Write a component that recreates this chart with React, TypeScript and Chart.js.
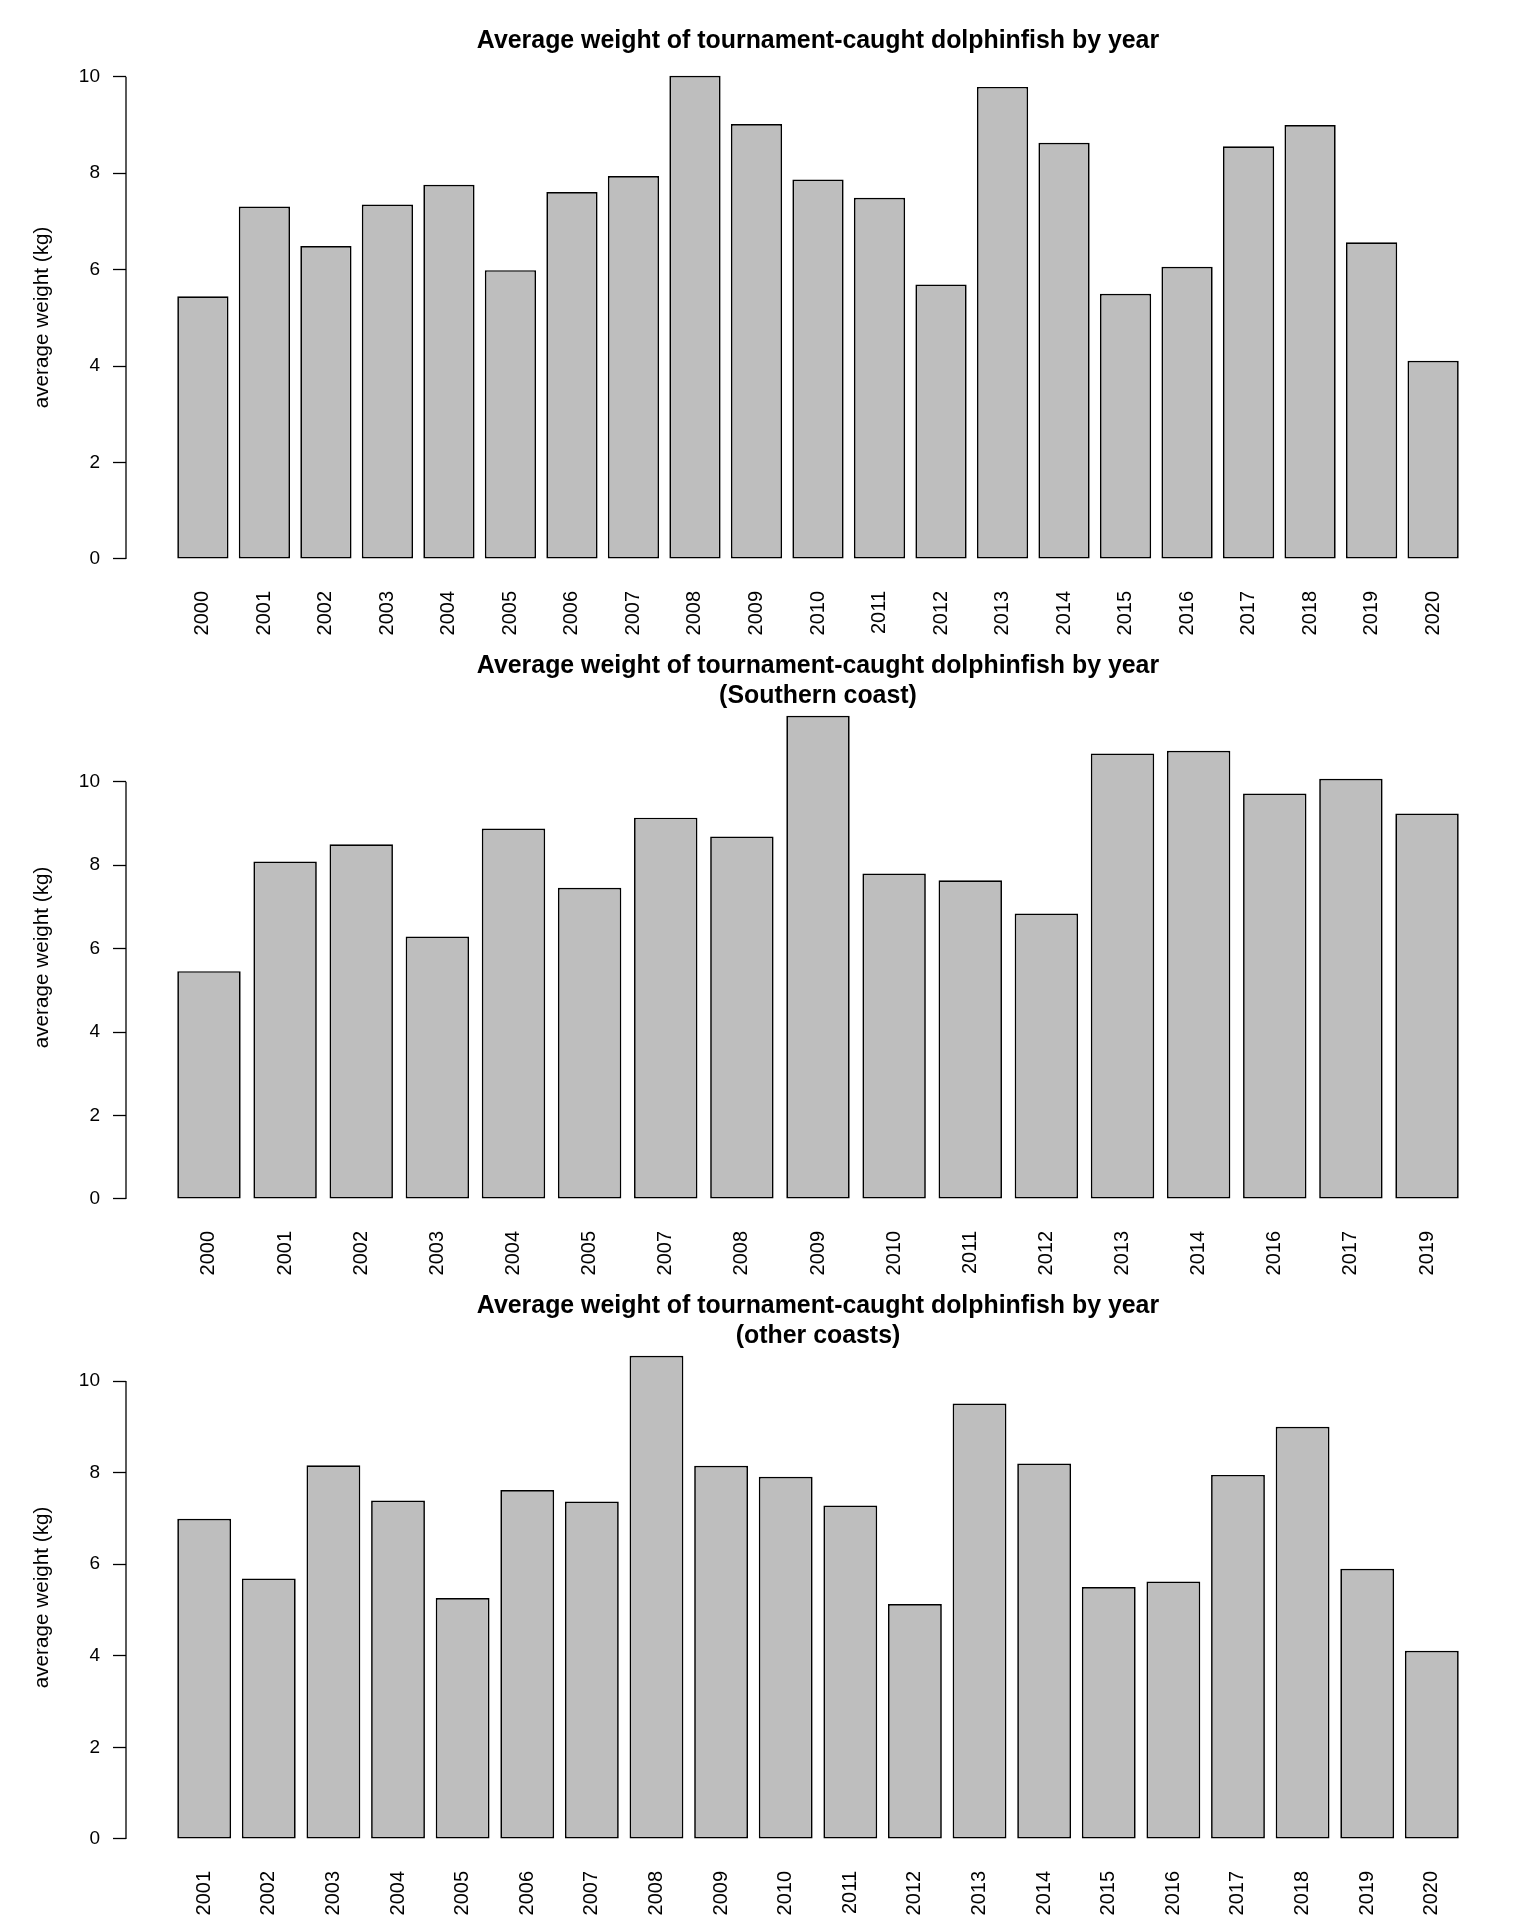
import React, { useEffect, useRef } from "react";
import { Chart, registerables } from "chart.js";

Chart.register(...registerables);

const FONT = '"Liberation Sans", Arial, Helvetica, sans-serif';

const titleMain = "Average weight of tournament-caught dolphinfish by year";
const yAxisTitle = "average weight (kg)";

const yearsAll = ["2000", "2001", "2002", "2003", "2004", "2005", "2006", "2007", "2008", "2009", "2010", "2011", "2012", "2013", "2014", "2015", "2016", "2017", "2018", "2019", "2020"];
const weightsAll = [5.45, 7.31, 6.49, 7.35, 7.76, 5.99, 7.61, 7.94, 10.02, 9.02, 7.87, 7.49, 5.69, 9.79, 8.63, 5.5, 6.06, 8.56, 9.0, 6.57, 4.11];

const yearsSouth = ["2000", "2001", "2002", "2003", "2004", "2005", "2007", "2008", "2009", "2010", "2011", "2012", "2013", "2014", "2016", "2017", "2019"];
const weightsSouth = [5.46, 8.09, 8.5, 6.29, 8.88, 7.46, 9.14, 8.69, 11.58, 7.8, 7.64, 6.84, 10.68, 10.74, 9.72, 10.07, 9.24];

const yearsOther = ["2001", "2002", "2003", "2004", "2005", "2006", "2007", "2008", "2009", "2010", "2011", "2012", "2013", "2014", "2015", "2016", "2017", "2018", "2019", "2020"];
const weightsOther = [6.99, 5.69, 8.16, 7.39, 5.26, 7.62, 7.37, 10.55, 8.15, 7.91, 7.28, 5.13, 9.51, 8.2, 5.5, 5.62, 7.95, 9.0, 5.9, 4.11];

const yTicks = [0, 2, 4, 6, 8, 10];

const titlesAll = [titleMain];
const titlesSouth = [titleMain, "(Southern coast)"];
const titlesOther = [titleMain, "(other coasts)"];

const decorPlugin = {
  id: "rDecor",
  afterDraw(chart: any, _args: any, opts: any) {
    const { ctx, chartArea, scales } = chart;
    const y = scales.y;
    const t = y.ticks;
    const top = y.getPixelForValue(t[t.length - 1].value);
    const bot = y.getPixelForValue(t[0].value);
    ctx.save();
    ctx.strokeStyle = "#000";
    ctx.lineWidth = 1.3;
    ctx.beginPath();
    ctx.moveTo(chartArea.left, top);
    ctx.lineTo(chartArea.left, bot);
    ctx.stroke();
    ctx.fillStyle = "#000";
    ctx.font = `bold 24.9px ${FONT}`;
    ctx.textAlign = "center";
    ctx.textBaseline = "middle";
    const cx = (chartArea.left + chartArea.right) / 2;
    const lines: string[] = opts.lines || [];
    const lh = 30.3;
    const cy = 41;
    lines.forEach((l, i) => {
      ctx.fillText(l, cx, cy + (i - (lines.length - 1) / 2) * lh);
    });
    ctx.restore();
  },
};

function Panel({ labels, values, lines }: { labels: string[]; values: number[]; lines: string[] }) {
  const ref = useRef<HTMLCanvasElement | null>(null);
  useEffect(() => {
    if (!ref.current) return;
    const n = labels.length;
    const r = 1.2 * n - 0.2;
    const lower = 0.2 - 0.04 * r;
    const upper = 1.2 * n + 0.04 * r;
    const xMin = (lower - 0.7) / 1.2;
    const xMax = (upper - 0.7) / 1.2;
    const vMax = Math.max(...values);
    const chart = new Chart(ref.current, {
      type: "bar",
      data: {
        datasets: [
          {
            data: values.map((v, i) => ({ x: i, y: v })),
            backgroundColor: "#bebebe",
            borderColor: "#000",
            borderWidth: 1.7,
            borderSkipped: false,
            categoryPercentage: 1,
            barPercentage: 1 / 1.2,
          } as any,
        ],
      },
      options: {
        responsive: false,
        devicePixelRatio: 1,
        animation: false,
        layout: { padding: { top: 56.5, right: 26, left: 0, bottom: 0 } },
        plugins: {
          legend: { display: false },
          tooltip: { enabled: false },
          title: { display: false },
          rDecor: { lines },
        } as any,
        scales: {
          x: {
            type: "linear",
            min: xMin,
            max: xMax,
            offset: false,
            grid: { display: false, drawTicks: false, offset: false },
            border: { display: false },
            afterBuildTicks: (s: any) => {
              s.ticks = labels.map((_, i) => ({ value: i }));
            },
            afterFit: (s: any) => {
              s.height = 61.7;
            },
            ticks: {
              autoSkip: false,
              maxRotation: 90,
              minRotation: 90,
              padding: 12.7,
              color: "#000",
              font: { family: FONT, size: 20 },
              callback: (_v: any, i: number) => labels[i],
            },
          },
          y: {
            type: "linear",
            min: -0.04 * vMax,
            max: 1.04 * vMax,
            afterBuildTicks: (s: any) => {
              s.ticks = yTicks.map((v) => ({ value: v }));
            },
            afterFit: (s: any) => {
              s.width = 126;
            },
            border: { display: false },
            grid: {
              display: true,
              drawOnChartArea: false,
              drawTicks: true,
              tickLength: 13,
              tickColor: "#000",
              tickWidth: 1.3,
              color: "#000",
            },
            ticks: {
              padding: 13,
              color: "#000",
              font: { family: FONT, size: 19 },
              callback: (v: any) => String(v),
            },
            title: {
              display: true,
              text: yAxisTitle,
              color: "#000",
              font: { family: FONT, size: 20.7 },
              padding: { top: 29.6, bottom: 0 },
            },
          },
        },
      },
      plugins: [decorPlugin as any],
    });
    return () => chart.destroy();
  }, [labels, values, lines]);
  return <canvas ref={ref} width={1536} height={640} style={{ display: "block", width: 1536, height: 640 }} />;
}

export default function App() {
  return (
    <div style={{ position: "absolute", left: 0, top: 0, width: 1536, height: 1920, background: "#fff", overflow: "hidden" }}>
      <Panel labels={yearsAll} values={weightsAll} lines={titlesAll} />
      <Panel labels={yearsSouth} values={weightsSouth} lines={titlesSouth} />
      <Panel labels={yearsOther} values={weightsOther} lines={titlesOther} />
    </div>
  );
}
